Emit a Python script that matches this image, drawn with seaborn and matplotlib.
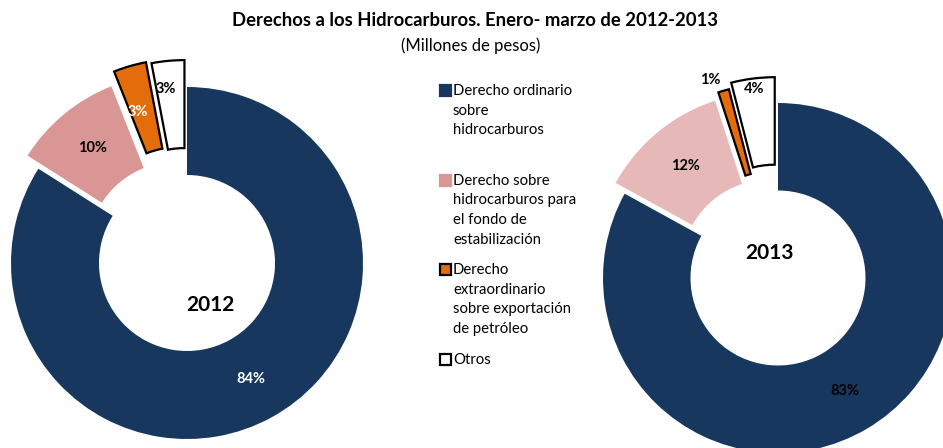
import matplotlib
matplotlib.use("Agg")
import matplotlib.pyplot as plt
import matplotlib.patches as mpatches
import seaborn as sns

# --- DATA ---
CATEGORIES = [
    "Derecho ordinario\nsobre\nhidrocarburos",
    "Derecho sobre\nhidrocarburos para\nel fondo de\nestabilización",
    "Derecho\nextraordinario\nsobre exportación\nde petróleo",
    "Otros",
]
SHARE_2012 = [84, 10, 3, 3]
SHARE_2013 = [83, 12, 1, 4]
YEARS = ["2012", "2013"]

TITLE = "Derechos a los Hidrocarburos. Enero- marzo de 2012-2013"
SUBTITLE = "(Millones de pesos)"

# --- STYLE ---
W, H = 943, 448
BLUE = "#17375E"
PINK_12 = "#D99694"
PINK_13 = "#E6B9B8"
ORANGE = "#E46C0A"
WHITE = "#FFFFFF"

sns.set_theme(style="white")
plt.rcParams['font.family'] = ['Lato', 'DejaVu Sans']


def img_y(y):
    # picture rows (top-down) -> data y (bottom-up)
    return H - y


def donut(ax, values, colors, center, radius, explode, label_colors, moves):
    wedges, _, autotexts = ax.pie(
        values, colors=colors, startangle=90, counterclock=False,
        center=center, radius=radius, explode=explode,
        wedgeprops=dict(width=radius * 0.5, linewidth=0),
        autopct="%.0f%%", pctdistance=0.75,
        textprops=dict(fontsize=10.5, fontweight="bold"),
    )
    # orange and white slices carry a black outline
    for w in wedges[2:]:
        w.set_edgecolor("black")
        w.set_linewidth(1.6)
    for t, c in zip(autotexts, label_colors):
        t.set_color(c)
    for idx, (dx, dy) in moves.items():
        x, y = autotexts[idx].get_position()
        autotexts[idx].set_position((x + dx, y + dy))
    return wedges


fig = plt.figure(figsize=(W / 100, H / 100), dpi=100)
ax = fig.add_axes([0, 0, 1, 1])

c12 = (187, img_y(263))
c13 = (778, img_y(278))

donut(ax, SHARE_2012, [BLUE, PINK_12, ORANGE, WHITE], c12, 176,
      [0, 17, 29, 27], ["white", "black", "white", "black"],
      {2: (-4, -4), 3: (-6, 16)})
donut(ax, SHARE_2013, [BLUE, PINK_13, ORANGE, WHITE], c13, 175,
      [0, 14, 20, 26], ["black", "black", "black", "black"],
      {2: (-26, 53), 3: (-4, 33)})

ax.text(210, img_y(305), YEARS[0], fontsize=15, fontweight="bold",
        ha="center", va="center", color="black")
ax.text(769, img_y(253), YEARS[1], fontsize=15, fontweight="bold",
        ha="center", va="center", color="black")

ax.set_xlim(0, W)
ax.set_ylim(0, H)
ax.set_aspect("equal")
ax.axis("off")

# --- TITLE ---
ax.text(475, img_y(20), TITLE, fontsize=13.3, fontweight="bold",
        ha="center", va="center", color="black")
ax.text(471, img_y(46), SUBTITLE, fontsize=12,
        ha="center", va="center", color="black")

# --- LEGEND (evenly spaced entries, swatch on first line) ---
swatches = [(BLUE, BLUE), (PINK_12, PINK_12), (ORANGE, "black"), (WHITE, "black")]
for i, (label, (fc, ec)) in enumerate(zip(CATEGORIES, swatches)):
    top = 85 + 89.5 * i
    ax.add_patch(mpatches.Rectangle((440, img_y(top + 11)), 11, 11,
                                    facecolor=fc, edgecolor=ec, linewidth=1.6))
    ax.text(453, img_y(top - 1), label, fontsize=10.7, linespacing=1.52,
            ha="left", va="top", color="black")

fig.savefig("out.png", dpi=100)
